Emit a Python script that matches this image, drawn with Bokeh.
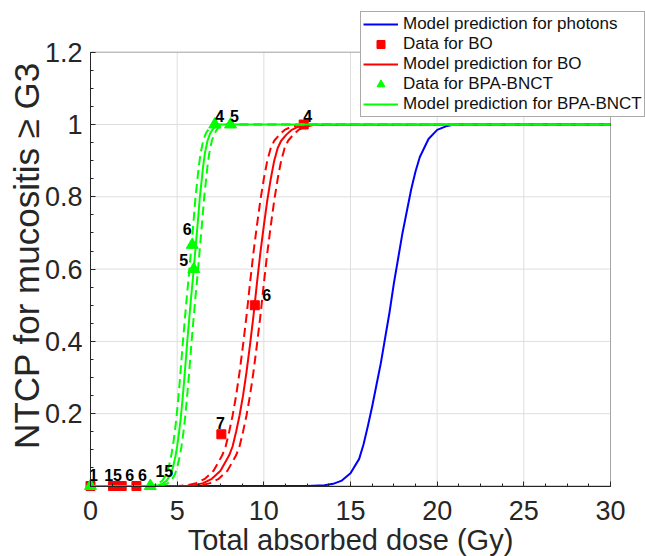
import numpy as np
from bokeh.plotting import figure
from bokeh.models import (Legend, LegendItem, FixedTicker, ColumnDataSource,
                          Range1d, Label, BoxAnnotation)
from bokeh.embed import file_html
from bokeh.resources import INLINE

# ---------------- data ----------------
# Model prediction for photons
photon_dose = [0, 12.5, 13.5, 14.0, 14.5, 15.0, 15.5, 15.75, 16.0, 16.25, 16.5, 16.75,
               17.0, 17.25, 17.5, 17.75, 18.0, 18.25, 18.5, 18.75, 19.0, 19.5, 20.0,
               20.5, 21.0, 30]
photon_ntcp = [0, 0, 0.002, 0.006, 0.015, 0.035, 0.075, 0.115, 0.165, 0.22, 0.28, 0.34,
               0.41, 0.48, 0.56, 0.63, 0.70, 0.76, 0.82, 0.87, 0.91, 0.96, 0.985,
               0.995, 1.0, 1.0]

# Model prediction for BO (solid) and its confidence band (dashed)
bo_dose = [0, 5.5, 6.0, 6.5, 7.0, 7.5, 8.0, 8.2, 8.4, 8.6, 8.8, 9.0, 9.2, 9.4, 9.6,
           9.8, 10.0, 10.2, 10.4, 10.6, 10.8, 11.0, 11.3, 11.6, 12.0, 12.5, 30]
bo_ntcp = [0, 0, 0.002, 0.008, 0.02, 0.042, 0.085, 0.11, 0.15, 0.195, 0.25, 0.315,
           0.39, 0.47, 0.56, 0.645, 0.72, 0.79, 0.85, 0.9, 0.935, 0.955, 0.972,
           0.985, 0.994, 0.999, 1.0]
bo_low_dose = [0, 5.1, 5.6, 6.1, 6.6, 7.1, 7.6, 7.8, 8.0, 8.2, 8.4, 8.6, 8.8, 9.0, 9.2,
               9.4, 9.6, 9.8, 10.0, 10.2, 10.4, 10.6, 10.9, 11.2, 11.6, 12.1, 30]
bo_high_dose = [0, 5.9, 6.4, 6.9, 7.4, 7.9, 8.4, 8.6, 8.8, 9.0, 9.2, 9.4, 9.6, 9.8, 10.0,
                10.2, 10.4, 10.6, 10.8, 11.0, 11.2, 11.4, 11.7, 12.0, 12.4, 12.9, 30]

# Model prediction for BPA-BNCT (solid) and its confidence band (dashed)
bpa_dose = [0, 3.6, 3.9, 4.15, 4.4, 4.6, 4.75, 4.9, 5.0, 5.1, 5.2, 5.3, 5.4, 5.5, 5.6,
            5.7, 5.8, 5.9, 6.0, 6.1, 6.2, 6.3, 6.4, 6.5, 6.6, 6.75, 6.9, 7.1, 7.4, 30]
bpa_ntcp = [0, 0, 0.002, 0.006, 0.015, 0.03, 0.05, 0.082, 0.11, 0.145, 0.185, 0.235,
            0.29, 0.35, 0.41, 0.465, 0.52, 0.57, 0.625, 0.68, 0.735, 0.795, 0.84,
            0.885, 0.92, 0.955, 0.975, 0.99, 1.0, 1.0]
bpa_low_dose = [0, 3.35, 3.65, 3.9, 4.15, 4.35, 4.5, 4.65, 4.75, 4.85, 4.95, 5.05, 5.15,
                5.25, 5.35, 5.45, 5.55, 5.65, 5.75, 5.85, 5.95, 6.05, 6.15, 6.25, 6.35,
                6.5, 6.65, 6.85, 7.15, 30]
bpa_high_dose = [0, 3.85, 4.15, 4.4, 4.65, 4.85, 5.0, 5.15, 5.25, 5.35, 5.45, 5.55, 5.65,
                 5.75, 5.85, 5.95, 6.05, 6.15, 6.25, 6.35, 6.45, 6.55, 6.65, 6.75, 6.85,
                 7.0, 7.15, 7.35, 7.65, 30]

# Observed data (with number of patients as labels)
bo_data_dose = [0, 1.3, 1.8, 2.65, 7.55, 9.48, 12.3]
bo_data_ntcp = [0, 0, 0, 0, 0.143, 0.5, 1.0]
bo_data_n = ["", "15", "6", "6", "7", "6", "4"]

bpa_data_dose = [0, 3.45, 5.96, 5.87, 7.17, 8.08]
bpa_data_ntcp = [0, 0, 0.6, 0.667, 1.0, 1.0]
bpa_data_n = ["1", "15", "5", "6", "4", "5"]

x_lim = (0, 30)
y_lim = (0, 1.2)
x_ticks = [0, 5, 10, 15, 20, 25, 30]
x_minor = [0, 1.25, 2.5, 3.75, 5, 6.25, 7.5, 8.75, 10, 11.25, 12.5, 13.75, 15,
           16.25, 17.5, 18.75, 20, 21.25, 22.5, 23.75, 25, 26.25, 27.5, 28.75, 30]
y_ticks = [0, 0.2, 0.4, 0.6, 0.8, 1.0, 1.2]
y_minor = [0, 0.05, 0.1, 0.15, 0.2, 0.25, 0.3, 0.35, 0.4, 0.45, 0.5, 0.55, 0.6,
           0.65, 0.7, 0.75, 0.8, 0.85, 0.9, 0.95, 1.0, 1.05, 1.1, 1.15, 1.2]
y_tick_labels = ["", "0.2", "0.4", "0.6", "0.8", "1", "1.2"]

x_label = "Total absorbed dose (Gy)"
y_label = "NTCP for mucositis \u2265 G3"
legend_labels = ["Model prediction for photons", "Data for BO", "Model prediction for BO",
                 "Data for BPA-BNCT", "Model prediction for BPA-BNCT"]

# ---------------- styles / layout ----------------
BLUE, RED, GREEN = "#0000ff", "#ff0000", "#00ff00"
AX = "#262626"
GRID = "#dedede"
FONT = "Liberation Sans"
W, H = 645, 556
BOX_LEFT_PX, BOX_BOTTOM_PX = 90, 485.5      # where (0, 0) sits on the canvas
PX_X = 520 / 30.0                            # pixels per Gy
PX_Y = 361.5                                 # pixels per NTCP unit
# pixel offsets of the count labels relative to their markers
bo_lab_dx = [0, 0, 8, 6, -1, 12, 4]
bo_lab_dy = [-11, -11, -11, -11, -11, -10, -9]
bpa_lab_dx = [3, 14, -10, -5, 5, 4]
bpa_lab_dy = [-11, -15, -9, -16, -9, -9]

# The frame fills the whole canvas; axes are pinned at x=0 / y=0 so that the
# legend (which overhangs the axes box) and the axis titles are not clipped.
x_start = -BOX_LEFT_PX / PX_X
x_end = (W - BOX_LEFT_PX) / PX_X
y_start = -(H - BOX_BOTTOM_PX) / PX_Y
y_end = BOX_BOTTOM_PX / PX_Y

p = figure(width=W, height=H,
           x_range=Range1d(x_start, x_end), y_range=Range1d(y_start, y_end),
           output_backend="svg", toolbar_location=None,
           min_border_left=0, min_border_right=0, min_border_top=0,
           min_border_bottom=0)
p.background_fill_color = "white"
p.border_fill_color = "white"
p.outline_line_color = None
p.grid.visible = False

p.xaxis.ticker = FixedTicker(ticks=x_ticks, minor_ticks=x_minor)
p.yaxis.ticker = FixedTicker(ticks=y_ticks, minor_ticks=y_minor)
p.yaxis.major_label_overrides = {t: l for t, l in zip(y_ticks, y_tick_labels)}
p.xaxis.major_label_overrides = {t: str(t) for t in x_ticks}
p.xaxis.bounds = x_lim
p.yaxis.bounds = y_lim
p.xaxis.fixed_location = 0
p.yaxis.fixed_location = 0

for ax in (p.xaxis, p.yaxis):
    ax.axis_line_color = AX
    ax.major_tick_line_color = AX
    ax.minor_tick_line_color = AX
    ax.major_tick_in = 5
    ax.major_tick_out = 0
    ax.minor_tick_in = 3
    ax.minor_tick_out = 0
    ax.major_label_text_font = FONT
    ax.major_label_text_font_size = "27px"
    ax.major_label_text_color = AX
p.xaxis.major_label_standoff = 15
p.yaxis.major_label_standoff = 8

# axis titles
p.add_layout(Label(x=15, y=(BOX_BOTTOM_PX - 555) / PX_Y, text=x_label,
                   text_font=FONT, text_font_size="29px", text_color=AX,
                   text_align="center", text_baseline="bottom"))
p.add_layout(Label(x=(25.5 - BOX_LEFT_PX) / PX_X, y=(BOX_BOTTOM_PX - 255) / PX_Y,
                   text=y_label, angle=np.pi / 2, text_font=FONT,
                   text_font_size="35px", text_color=AX,
                   text_align="center", text_baseline="middle"))

# grid lines, limited to the axes box
p.segment(x0=x_ticks, y0=[y_lim[0]] * len(x_ticks), x1=x_ticks,
          y1=[y_lim[1]] * len(x_ticks), line_color=GRID, line_width=1)
p.segment(x0=[x_lim[0]] * len(y_ticks), y0=y_ticks, x1=[x_lim[1]] * len(y_ticks),
          y1=y_ticks, line_color=GRID, line_width=1)

lw = 2
r_ph = p.line(photon_dose, photon_ntcp, line_color=BLUE, line_width=lw, line_join="round")
r_bo = p.line(bo_dose, bo_ntcp, line_color=RED, line_width=lw, line_join="round")
p.line(bo_low_dose, bo_ntcp, line_color=RED, line_width=lw, line_dash="9 5")
p.line(bo_high_dose, bo_ntcp, line_color=RED, line_width=lw, line_dash="9 5")
r_bo_pts = p.scatter(bo_data_dose, bo_data_ntcp, marker="square", size=9,
                     fill_color=RED, line_color=RED)
r_bpa = p.line(bpa_dose, bpa_ntcp, line_color=GREEN, line_width=lw, line_join="round")
p.line(bpa_low_dose, bpa_ntcp, line_color=GREEN, line_width=lw, line_dash="9 5")
p.line(bpa_high_dose, bpa_ntcp, line_color=GREEN, line_width=lw, line_dash="9 5")
r_bpa_pts = p.scatter(bpa_data_dose, bpa_data_ntcp, marker="triangle", size=12,
                      fill_color=GREEN, line_color=GREEN)

lab_src = ColumnDataSource(dict(
    x=bo_data_dose + bpa_data_dose,
    y=bo_data_ntcp + bpa_data_ntcp,
    t=bo_data_n + bpa_data_n,
    dx=bo_lab_dx + bpa_lab_dx,
    dy=bo_lab_dy + bpa_lab_dy))
p.text(x="x", y="y", text="t", source=lab_src, x_offset="dx", y_offset="dy",
       text_font={"value": FONT}, text_font_size="16px", text_font_style="bold",
       text_color="black", text_align="center", text_baseline="middle")

# axes box
p.add_layout(BoxAnnotation(left=x_lim[0], right=x_lim[1], bottom=y_lim[0], top=y_lim[1],
                           fill_alpha=0, line_color=AX, line_width=1))

legend = Legend(items=[
    LegendItem(label=legend_labels[0], renderers=[r_ph]),
    LegendItem(label=legend_labels[1], renderers=[r_bo_pts]),
    LegendItem(label=legend_labels[2], renderers=[r_bo]),
    LegendItem(label=legend_labels[3], renderers=[r_bpa_pts]),
    LegendItem(label=legend_labels[4], renderers=[r_bpa]),
], location=(360, 439))
legend.label_text_font = FONT
legend.label_text_font_size = "17px"
legend.label_text_color = "#111111"
legend.glyph_width = 35
legend.glyph_height = 20
legend.label_height = 20
legend.label_standoff = 5
legend.spacing = 0
legend.padding = 2
legend.margin = 0
legend.border_line_color = "#555555"
legend.border_line_width = 1
legend.background_fill_alpha = 1
p.add_layout(legend, "center")

open("out.html", "w").write(file_html(p, INLINE))
